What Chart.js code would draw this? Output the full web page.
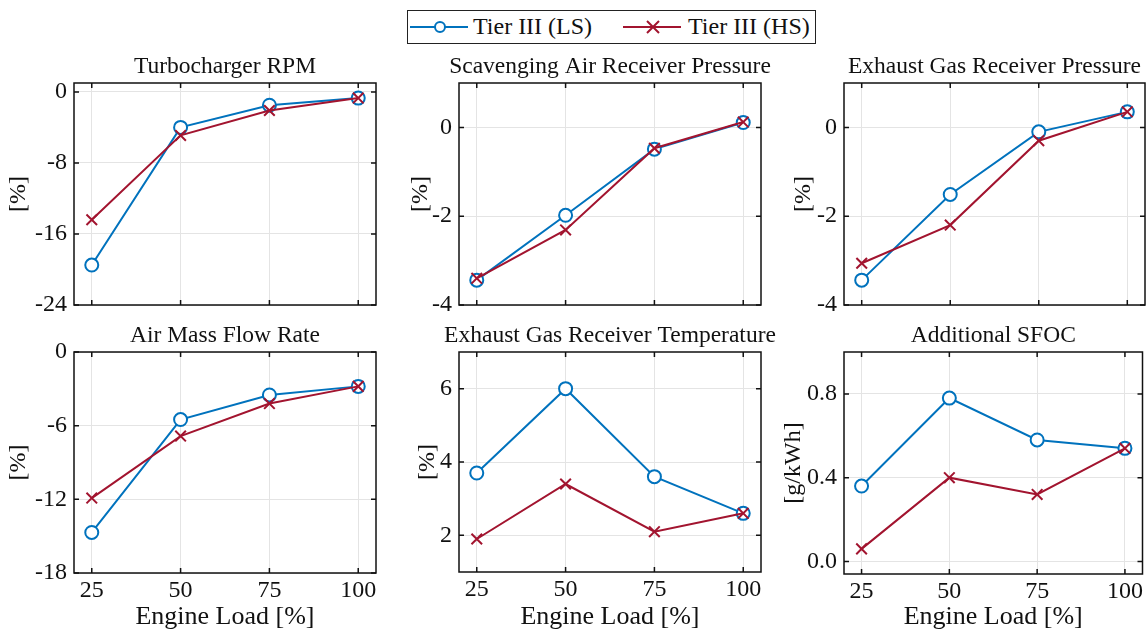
<!DOCTYPE html>
<html>
<head>
<meta charset="utf-8">
<script src="https://cdn.jsdelivr.net/npm/chart.js@4.4.1/dist/chart.umd.min.js"></script>
<style>
  body { margin: 0; background: #fff; width: 1146px; height: 635px; position: relative; overflow: hidden; font-family: "Liberation Serif", serif; }
  canvas { position: absolute; }
  #legend { position: absolute; left: 407px; top: 10px; width: 409px; height: 34px; border: 1.5px solid #222; box-sizing: border-box; }
  #legend svg { position: absolute; top: 0; }
  #legend span { position: absolute; top: 1px; font-size: 24px; line-height: 28px; color: #111; }
</style>
</head>
<body>
<div id="legend">
  <svg style="left:2px" width="60" height="33"><line x1="0" y1="16" x2="58" y2="16" stroke="#0072BD" stroke-width="2"/><circle cx="30" cy="16" r="5" fill="#fff" stroke="#0072BD" stroke-width="2"/></svg>
  <span style="left:65px">Tier III (LS)</span>
  <svg style="left:215px" width="60" height="33"><line x1="0" y1="16" x2="58" y2="16" stroke="#A2142F" stroke-width="2"/><path d="M24 10 L36 22 M36 10 L24 22" stroke="#A2142F" stroke-width="2"/></svg>
  <span style="left:280px">Tier III (HS)</span>
</div>
<canvas id="c1"></canvas>
<canvas id="c2"></canvas>
<canvas id="c3"></canvas>
<canvas id="c4"></canvas>
<canvas id="c5"></canvas>
<canvas id="c6"></canvas>
<script>
// engine load (x)
const loads = [25, 50, 75, 100];

// Tier III (LS) / Tier III (HS) values per panel
const turboLS = [-19.5, -4.0, -1.5, -0.7];
const turboHS = [-14.4, -4.9, -2.1, -0.7];
const scavLS = [-3.44, -1.98, -0.49, 0.11];
const scavHS = [-3.40, -2.31, -0.47, 0.12];
const exhPLS = [-3.44, -1.51, -0.10, 0.35];
const exhPHS = [-3.06, -2.20, -0.30, 0.35];
const airLS = [-14.7, -5.5, -3.5, -2.8];
const airHS = [-11.9, -6.85, -4.2, -2.8];
const exhTLS = [3.7, 6.0, 3.6, 2.6];
const exhTHS = [1.9, 3.4, 2.1, 2.6];
const sfocLS = [0.36, 0.78, 0.58, 0.54];
const sfocHS = [0.06, 0.40, 0.32, 0.54];

// tick labels
const xTicks = [25, 50, 75, 100];
const turboTicks = [-24, -16, -8, 0];
const pressTicks = [-4, -2, 0];
const airTicks = [-18, -12, -6, 0];
const tempTicks = [2, 4, 6];
const sfocTicks = [0, 0.4, 0.8];

const blue = "#0072BD";
const red = "#A2142F";
const serif = "'Liberation Serif', 'Times New Roman', serif";

// box round the plot area with inward ticks, and the panel title centred over it
const frame = {
    id: "frame",
    beforeDatasetsDraw(chart) {
        const a = chart.chartArea;
        const ctx = chart.ctx;
        const xs = chart.scales.x, ys = chart.scales.y;
        ctx.save();
        ctx.strokeStyle = "#111";
        ctx.lineWidth = 1.5;
        ctx.strokeRect(a.left, a.top, a.right - a.left, a.bottom - a.top);
        ctx.beginPath();
        xs.ticks.forEach(t => {
            const px = xs.getPixelForValue(t.value);
            ctx.moveTo(px, a.bottom); ctx.lineTo(px, a.bottom - 5);
            ctx.moveTo(px, a.top); ctx.lineTo(px, a.top + 5);
        });
        ys.ticks.forEach(t => {
            const py = ys.getPixelForValue(t.value);
            ctx.moveTo(a.left, py); ctx.lineTo(a.left + 5, py);
            ctx.moveTo(a.right, py); ctx.lineTo(a.right - 5, py);
        });
        ctx.stroke();
        ctx.restore();
    },
    afterDraw(chart, args, opts) {
        const a = chart.chartArea;
        const ctx = chart.ctx;
        ctx.save();
        ctx.fillStyle = "#111";
        ctx.font = "23.5px " + serif;
        ctx.textAlign = "center";
        ctx.textBaseline = "middle";
        ctx.fillText(opts.text, (a.left + a.right) / 2, a.top - 16);
        ctx.restore();
    }
};

function pts(vals) {
    return loads.map((x, i) => ({ x: x, y: vals[i] }));
}

function panel(id, p) {
    const bottomRow = p.plotTop > 200;
    const canvasTop = p.plotTop - 36;
    // top row keeps a blank strip under the plot so the y labels need no extra room
    const height = bottomRow ? 635 - canvasTop : p.plotBottom + 30 - canvasTop;
    const width = 1146 - p.left;
    const el = document.getElementById(id);
    el.width = width;
    el.height = height;
    el.style.left = p.left + "px";
    el.style.top = canvasTop + "px";

    new Chart(el.getContext("2d"), {
        type: "line",
        data: {
            datasets: [{
                label: "Tier III (LS)",
                data: pts(p.ls),
                order: 1,
                borderColor: blue,
                borderWidth: 2,
                pointStyle: "circle",
                pointRadius: 6.5,
                pointBorderWidth: 2,
                pointBackgroundColor: "#fff",
                pointBorderColor: blue,
                tension: 0
            }, {
                label: "Tier III (HS)",
                data: pts(p.hs),
                order: 0,
                borderColor: red,
                borderWidth: 2,
                pointStyle: "crossRot",
                pointRadius: 7.5,
                pointBorderWidth: 2,
                pointBorderColor: red,
                tension: 0
            }]
        },
        options: {
            responsive: false,
            animation: false,
            layout: {
                autoPadding: false,
                padding: { top: 36, right: width - (p.plotRight - p.left), left: 0, bottom: 0 }
            },
            plugins: {
                legend: { display: false },
                tooltip: { enabled: false },
                title: { display: false },
                frame: { text: p.title }
            },
            scales: {
                x: {
                    type: "linear",
                    min: 20,
                    max: 105,
                    afterBuildTicks: s => { s.ticks = xTicks.map(v => ({ value: v })); },
                    afterFit: s => { s.height = canvasTop + height - p.plotBottom; },
                    grid: { color: "#e4e4e4", drawTicks: false },
                    border: { display: false },
                    ticks: {
                        display: bottomRow,
                        color: "#111",
                        padding: 3,
                        font: { family: serif, size: 24 }
                    },
                    title: {
                        display: bottomRow,
                        text: "Engine Load [%]",
                        color: "#111",
                        font: { family: serif, size: 26 },
                        padding: { top: 0, bottom: 2 }
                    }
                },
                y: {
                    min: p.yMin,
                    max: p.yMax,
                    afterBuildTicks: s => { s.ticks = p.yTicks.map(v => ({ value: v })); },
                    afterFit: s => { s.width = p.plotLeft - p.left; },
                    grid: { color: "#e4e4e4", drawTicks: false },
                    border: { display: false },
                    ticks: {
                        color: "#111",
                        padding: 7,
                        font: { family: serif, size: 24 },
                        callback: v => p.dec ? v.toFixed(1) : String(v)
                    },
                    title: {
                        display: true,
                        text: p.yTitle,
                        color: "#111",
                        font: { family: serif, size: 24 },
                        padding: { top: 4, bottom: 0 }
                    }
                }
            }
        },
        plugins: [frame]
    });
}

panel("c1", { left: 0, plotLeft: 74, plotRight: 376, plotTop: 83, plotBottom: 305,
    title: "Turbocharger RPM", yTitle: "[%]", yMin: -24, yMax: 1, yTicks: turboTicks, ls: turboLS, hs: turboHS });
panel("c2", { left: 402, plotLeft: 459, plotRight: 761, plotTop: 83, plotBottom: 305,
    title: "Scavenging Air Receiver Pressure", yTitle: "[%]", yMin: -4, yMax: 1, yTicks: pressTicks, ls: scavLS, hs: scavHS });
panel("c3", { left: 785, plotLeft: 844, plotRight: 1145, plotTop: 83, plotBottom: 305,
    title: "Exhaust Gas Receiver Pressure", yTitle: "[%]", yMin: -4, yMax: 1, yTicks: pressTicks, ls: exhPLS, hs: exhPHS });
panel("c4", { left: 0, plotLeft: 74, plotRight: 376, plotTop: 352, plotBottom: 573,
    title: "Air Mass Flow Rate", yTitle: "[%]", yMin: -18, yMax: 0, yTicks: airTicks, ls: airLS, hs: airHS });
panel("c5", { left: 409, plotLeft: 459, plotRight: 761, plotTop: 352, plotBottom: 572,
    title: "Exhaust Gas Receiver Temperature", yTitle: "[%]", yMin: 1, yMax: 7, yTicks: tempTicks, ls: exhTLS, hs: exhTHS });
panel("c6", { left: 775, plotLeft: 844, plotRight: 1145, plotTop: 352, plotBottom: 574,
    title: "Additional SFOC", yTitle: "[g/kWh]", yMin: -0.06, yMax: 1.0, yTicks: sfocTicks, ls: sfocLS, hs: sfocHS, dec: true });
</script>
</body>
</html>
